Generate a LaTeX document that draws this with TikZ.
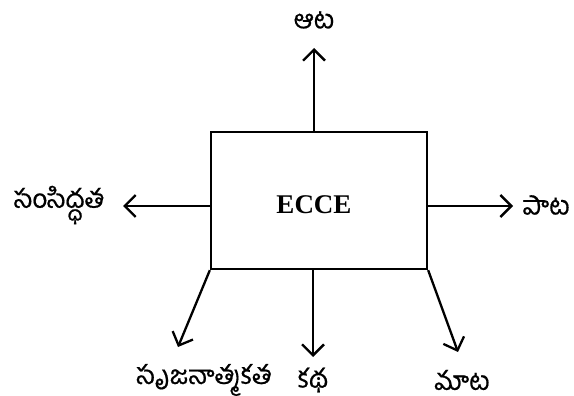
\documentclass[tikz,border=0pt]{standalone}
\usepackage{fontspec}
\setmainfont{Liberation Serif}
\newfontfamily\telugu[Script=Telugu,FakeBold=0.6]{Hind Guntur}
\usetikzlibrary{arrows.meta}
\begin{document}
\begin{tikzpicture}[x=1pt,y=-1pt,
  conn/.style={line width=2.3pt,-{Straight Barb[length=11pt,width=22pt,line width=2.3pt]}},
  lbl/.style={font=\telugu\fontsize{26}{28}\selectfont,inner sep=0pt},
  boxst/.style={draw,line width=2.3pt,minimum width=216pt,minimum height=137pt,inner sep=0pt},
  ctext/.style={font=\bfseries\fontsize{27}{30}\selectfont,inner sep=0pt}]
\useasboundingbox (0,0) rectangle (574,396);
\node[boxst] (box) at (319,200.5) {};
\node[ctext] (ecce) at (314,205) {ECCE};
\node[lbl] (top) at (314,20) {ఆట};
\node[lbl] (left) at (59,205) {సంసిద్ధత};
\node[lbl] (right) at (546,205) {పాట};
\node[lbl] (bot) at (313,380) {కథ};
\node[lbl] (bl) at (204,380) {సృజనాత్మకత};
\node[lbl] (br) at (462,380) {మాట};
\coordinate (tend) at (314,48);
\coordinate (lend) at (123,206);
\coordinate (rend) at (513,206);
\coordinate (bend) at (313,357);
\coordinate (blend) at (178,347);
\coordinate (brend) at (458,352);
\draw[conn] (box.north -| tend) -- (tend);
\draw[conn] (box.west |- lend) -- (lend);
\draw[conn] (box.east |- rend) -- (rend);
\draw[conn] (box.south -| bend) -- (bend);
\draw[conn] (box.south west) -- (blend);
\draw[conn] (box.south east) -- (brend);
\end{tikzpicture}
\end{document}
